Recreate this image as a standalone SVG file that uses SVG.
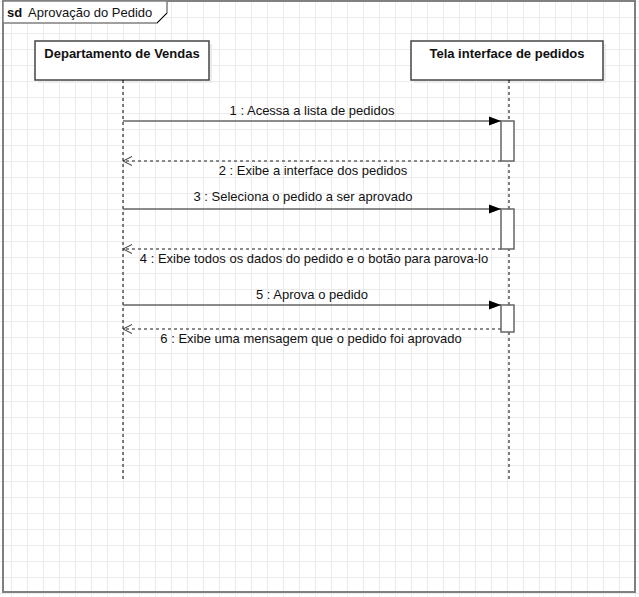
<svg xmlns="http://www.w3.org/2000/svg" width="639" height="597" viewBox="0 0 639 597">
<defs>
<pattern id="grid" patternUnits="userSpaceOnUse" x="11" y="1" width="16" height="16">
<path d="M0 0.5H16M0.5 0V16" fill="none" stroke="#ebebeb" stroke-width="1"/>
</pattern>
<marker id="solid" markerWidth="12" markerHeight="10" refX="12" refY="5" orient="auto" markerUnits="userSpaceOnUse">
<path d="M0 0.5L12 5L0 9.5Z" fill="#000"/>
</marker>
<marker id="open" markerWidth="12" markerHeight="12" refX="11" refY="6" orient="auto" markerUnits="userSpaceOnUse">
<path d="M2 1.5L11 6L2 10.5" fill="none" stroke="#333" stroke-width="1"/>
</marker>
</defs>
<style>
text{font-family:"Liberation Sans",Arial,sans-serif;font-size:13px;fill:#111;}
.b{font-weight:bold;}
.box{fill:#fff;stroke:#444;stroke-width:1.5;}
.shadow{fill:#ececec;}
.life{stroke:#000;stroke-width:1;stroke-dasharray:3 3;fill:none;}
.act{fill:#fff;stroke:#666;stroke-width:1.5;}
.msg{stroke:#666;stroke-width:1.5;fill:none;}
.ret{stroke:#666;stroke-width:1.5;stroke-dasharray:3 3;fill:none;}
.lbl{text-anchor:middle;}
</style>
<rect width="639" height="597" fill="#fff"/>
<rect width="639" height="597" fill="url(#grid)"/>
<g id="frame">
<rect x="3" y="1" width="632" height="591" fill="none" stroke="#808080" stroke-width="2"/>
<path d="M3 1H167V13L157 23H3Z" fill="#fff" stroke="#808080" stroke-width="1.5"/>
<path d="M167 13L157 23" stroke="#000" stroke-width="1"/>
<text x="7" y="17"><tspan class="b">sd</tspan><tspan x="28">Aprovação do Pedido</tspan></text>
</g>
<g id="dept">
<rect class="shadow" x="38" y="44" width="174" height="39"/>
<rect class="box" x="35" y="41" width="174" height="39"/>
<text class="b lbl" x="122" y="58">Departamento de Vendas</text>
<line class="life" x1="123" y1="80" x2="123" y2="480"/>
</g>
<g id="tela">
<rect class="shadow" x="414" y="44" width="192" height="39"/>
<rect class="box" x="411" y="41" width="192" height="39"/>
<text class="b lbl" x="507" y="58">Tela interface de pedidos</text>
<line class="life" x1="509" y1="80" x2="509" y2="480"/>
<rect class="act" x="501" y="121" width="13" height="40"/>
<rect class="act" x="501" y="209" width="13" height="40"/>
<rect class="act" x="501" y="305" width="13" height="27"/>
</g>
<g id="connectors">
<line class="msg" x1="123" y1="121" x2="501" y2="121" marker-end="url(#solid)"/>
<text class="lbl" x="312" y="115">1 : Acessa a lista de pedidos</text>
<line class="ret" x1="501" y1="161" x2="123" y2="161" marker-end="url(#open)"/>
<text class="lbl" x="313" y="175">2 : Exibe a interface dos pedidos</text>
<line class="msg" x1="123" y1="209" x2="501" y2="209" marker-end="url(#solid)"/>
<text class="lbl" x="303" y="201">3 : Seleciona o pedido a ser aprovado</text>
<line class="ret" x1="501" y1="249" x2="123" y2="249" marker-end="url(#open)"/>
<text class="lbl" x="314" y="263">4 : Exibe todos os dados do pedido e o botão para parova-lo</text>
<line class="msg" x1="123" y1="305" x2="501" y2="305" marker-end="url(#solid)"/>
<text class="lbl" x="312" y="299">5 : Aprova o pedido</text>
<line class="ret" x1="501" y1="329" x2="123" y2="329" marker-end="url(#open)"/>
<text class="lbl" x="311" y="343">6 : Exibe uma mensagem que o pedido foi aprovado</text>
</g>
</svg>
